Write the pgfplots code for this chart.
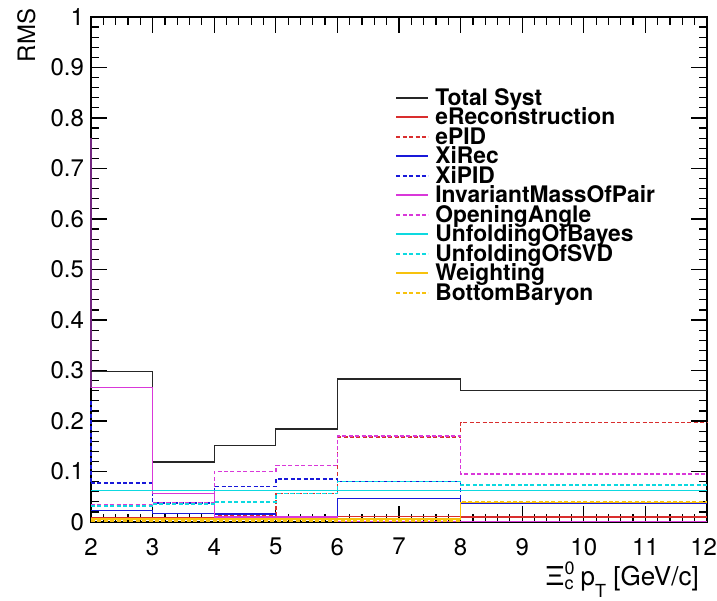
\documentclass[border=0pt]{standalone}
\usepackage{fontspec}
\setmainfont{TeX Gyre Heros}
\usepackage{pgfplots}
\pgfplotsset{compat=1.18}
\definecolor{rred}{rgb}{0.85,0.18,0.18}
\definecolor{rblue}{rgb}{0.10,0.10,0.85}
\definecolor{rmag}{rgb}{0.85,0.22,0.85}
\definecolor{rpur}{rgb}{0.45,0.15,0.50}
\definecolor{rcyan}{rgb}{0.05,0.85,0.88}
\definecolor{ryel}{rgb}{0.97,0.76,0.05}
\begin{document}
\begin{tikzpicture}
\useasboundingbox (-45.5pt,-39pt) rectangle (313pt,261pt);
\begin{axis}[
  scale only axis, width=308pt, height=252.5pt,
  xmin=2, xmax=12, ymin=0, ymax=1,
  clip=false,
  tick align=inside,
  major tick length=8pt, minor tick length=4pt,
  minor x tick num=4, minor y tick num=4,
  xtick={2,3,4,5,6,7,8,9,10,11,12},
  xticklabels={2,3,4,5,6,7,8,9,10,11,\makebox[10pt][r]{12}},
  ytick={0,0.1,0.2,0.3,0.4,0.5,0.6,0.7,0.8,0.9,1},
  yticklabels={0,0.1,0.2,0.3,0.4,0.5,0.6,0.7,0.8,0.9,1},
  ticklabel style={font=\fontsize{12}{12}\selectfont},
  xticklabel style={yshift=-4.5pt},
  axis line style={line width=0.8pt},
  every tick/.style={black, line width=0.6pt},
  legend cell align=left,
  legend style={draw=none, fill=none, inner sep=0pt,
    at={(rel axis cs:0.4935,0.8554)}, anchor=north west,
    font=\fontsize{11.4}{11.4}\selectfont\bfseries,
    row sep=0pt, column sep=3pt,
    nodes={inner sep=0pt, text height=7.5pt, text depth=2.25pt}},
  legend image code/.code={\draw[#1, line width=1pt] (0pt,1.3pt) -- (16pt,1.3pt);},
  every axis plot/.append style={const plot, line width=0.6pt},
  dsh/.style={dash pattern=on 2pt off 1.2pt, line width=0.7pt},
]
% left-edge verticals
\addplot[draw=rpur, forget plot] coordinates {(2,0.76)(2,0.266)};
\addplot[draw=rblue, dsh, forget plot] coordinates {(2,0.24)(2,0.077)};

\addplot[draw=black!85] coordinates {(2,0.298)(3,0.119)(4,0.151)(5,0.184)(6,0.283)(8,0.260)(12,0.260)};
\addlegendentry{Total Syst}
\addplot[draw=rred] coordinates {(2,0.009)(3,0.009)(4,0.011)(5,0.011)(6,0.011)(8,0.010)(12,0.010)};
\addlegendentry{eReconstruction}
\addplot[draw=rred, dsh] coordinates {(2,0.032)(3,0.036)(4,0.012)(5,0.056)(6,0.168)(8,0.197)(12,0.197)};
\addlegendentry{ePID}
\addplot[draw=rblue] coordinates {(2,0.023)(3,0.017)(4,0.016)(5,0.010)(6,0.046)(8,0.036)(12,0.036)};
\addlegendentry{XiRec}
\addplot[draw=rblue, dsh] coordinates {(2,0.077)(3,0.038)(4,0.070)(5,0.085)(6,0.080)(8,0.037)(12,0.037)};
\addlegendentry{XiPID}
\addplot[draw=rmag] coordinates {(2,0.266)(3,0.057)(4,0.010)(5,0.010)(6,0.001)(8,0.001)(12,0.001)};
\addlegendentry{InvariantMassOfPair}
\addplot[draw=rmag, dsh] coordinates {(2,0.034)(3,0.038)(4,0.100)(5,0.112)(6,0.170)(8,0.095)(12,0.095)};
\addlegendentry{OpeningAngle}
\addplot[draw=rcyan] coordinates {(2,0.063)(3,0.063)(4,0.063)(5,0.063)(6,0.063)(8,0.063)(12,0.063)};
\addlegendentry{UnfoldingOfBayes}
\addplot[draw=rcyan, dsh] coordinates {(2,0.032)(3,0.036)(4,0.040)(5,0.056)(6,0.080)(8,0.073)(12,0.073)};
\addlegendentry{UnfoldingOfSVD}
\addplot[draw=ryel] coordinates {(2,0.006)(3,0.006)(4,0.006)(5,0.006)(6,0.006)(8,0.038)(12,0.038)};
\addlegendentry{Weighting}
\addplot[draw=ryel, dsh] coordinates {(2,0.002)(3,0.002)(4,0.002)(5,0.002)(6,0.002)(8,0.041)(12,0.041)};
\addlegendentry{BottomBaryon}

\node[rotate=90, anchor=base east, font=\fontsize{12}{12}\selectfont] at (axis cs:1.091,1.03) {RMS};
\node[anchor=base east, font=\fontsize{13}{13}\selectfont] at (axis cs:11.98,-0.125)
  {Ξ\makebox[0pt][l]{\raisebox{0.75ex}{\fontsize{9}{9}\selectfont 0}}\raisebox{-0.35ex}{\fontsize{9}{9}\selectfont c}\ p\raisebox{-0.9ex}{\fontsize{9}{9}\selectfont T}\ [GeV/c]};
\end{axis}
\end{tikzpicture}
\end{document}
